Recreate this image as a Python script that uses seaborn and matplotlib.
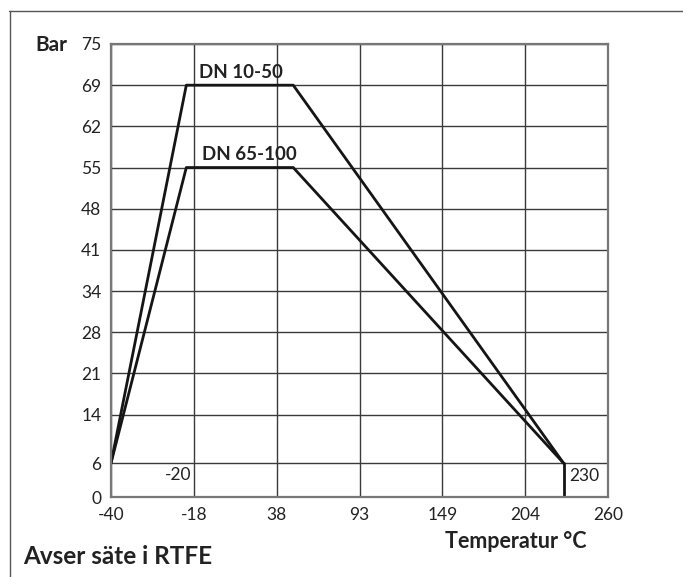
import numpy as np
import pandas as pd
import matplotlib.pyplot as plt
import seaborn as sns
from matplotlib.lines import Line2D

sns.set_theme(style="white")
plt.rcParams["font.family"] = ["Lato", "DejaVu Sans"]

# -------- data --------
x_ticks = [-40, -18, 38, 93, 149, 204, 260]          # °C, equally spaced grid
y_ticks = [0, 6, 14, 21, 28, 34, 41, 48, 55, 62, 69, 75]  # bar

dn_small_temp = [-40, -20, 49, 230]
dn_small_bar = [6, 69, 69, 6]
dn_large_temp = [-40, -20, 49, 230]
dn_large_bar = [6, 55, 55, 6]
limit_temp = [230, 230]
limit_bar = [6, 0]

# grid position of each tick (the printed chart is not linear in °C / bar)
x_pos = np.arange(len(x_ticks))
y_pos = [0, 0.82, 2, 3, 4, 5, 6, 7, 8, 9, 10, 11]

df = pd.concat([
    pd.DataFrame({"temp": dn_small_temp, "bar": dn_small_bar, "serie": "DN 10-50"}),
    pd.DataFrame({"temp": dn_large_temp, "bar": dn_large_bar, "serie": "DN 65-100"}),
    pd.DataFrame({"temp": limit_temp, "bar": limit_bar, "serie": "limit"}),
], ignore_index=True)


def x_fwd(v):
    return np.interp(np.asarray(v, dtype=float), x_ticks, x_pos)


def x_inv(v):
    return np.interp(np.asarray(v, dtype=float), x_pos, x_ticks)


def y_fwd(v):
    return np.interp(np.asarray(v, dtype=float), y_ticks, y_pos)


def y_inv(v):
    return np.interp(np.asarray(v, dtype=float), y_pos, y_ticks)


W, H = 683, 577
fig = plt.figure(figsize=(W / 100, H / 100), dpi=100)
ax = fig.add_axes([111 / W, 1 - 497 / H, (608 - 111) / W, (497 - 44) / H])

ax.set_xscale("function", functions=(x_fwd, x_inv))
ax.set_yscale("function", functions=(y_fwd, y_inv))
ax.set_xlim(-40, 260)
ax.set_ylim(0, 75)

ax.set_xticks(x_ticks)
ax.set_xticklabels([str(t) for t in x_ticks])
ax.set_yticks(y_ticks)
ax.set_yticklabels([str(t) for t in y_ticks])
ax.minorticks_off()
ax.tick_params(length=0, labelsize=12.5, colors="#222", pad=7)
ax.grid(True, color="#3a3a3a", lw=1.0)
ax.set_axisbelow(True)
for s in ax.spines.values():
    s.set_color("#777777")
    s.set_linewidth(1.6)

sns.lineplot(data=df, x="temp", y="bar", hue="serie", sort=False, estimator=None,
             palette={"DN 10-50": "#151515", "DN 65-100": "#151515", "limit": "#151515"},
             lw=2.0, legend=False, ax=ax)
ax.set_xlabel("")
ax.set_ylabel("")

ax.annotate("DN 10-50", (-20, 69), xytext=(9, 3), textcoords="offset points",
            ha="left", va="bottom", fontsize=13.5, fontweight="bold", color="#222")
ax.annotate("DN 65-100", (-20, 55), xytext=(11, 3), textcoords="offset points",
            ha="left", va="bottom", fontsize=13.5, fontweight="bold", color="#222")
ax.annotate("-20", (-20, 6), xytext=(-6, -3), textcoords="offset points",
            ha="center", va="top", fontsize=12.5, color="#222")
ax.annotate("230", (230, 6), xytext=(4, -9), textcoords="offset points",
            ha="left", va="center", fontsize=12.5, color="#222")

fig.text(67 / W, 1 - 45 / H, "Bar", ha="right", va="center",
         fontsize=15, fontweight="bold", color="#222")
fig.text(587 / W, 1 - 542 / H, "Temperatur °C", ha="right", va="center",
         fontsize=15.5, fontweight="bold", color="#222")
fig.text(23 / W, 1 - 557 / H, "Avser säte i RTFE", ha="left", va="center",
         fontsize=17.5, fontweight="bold", color="#222")

# outer frame (only top and left edges are visible)
fig.add_artist(Line2D([9 / W, 1], [1 - 11 / H] * 2, transform=fig.transFigure,
                      color="#555555", lw=1.0))
fig.add_artist(Line2D([10 / W] * 2, [0, 1 - 11 / H], transform=fig.transFigure,
                      color="#555555", lw=1.0))

fig.savefig("out.png", dpi=100)
plt.close(fig)
